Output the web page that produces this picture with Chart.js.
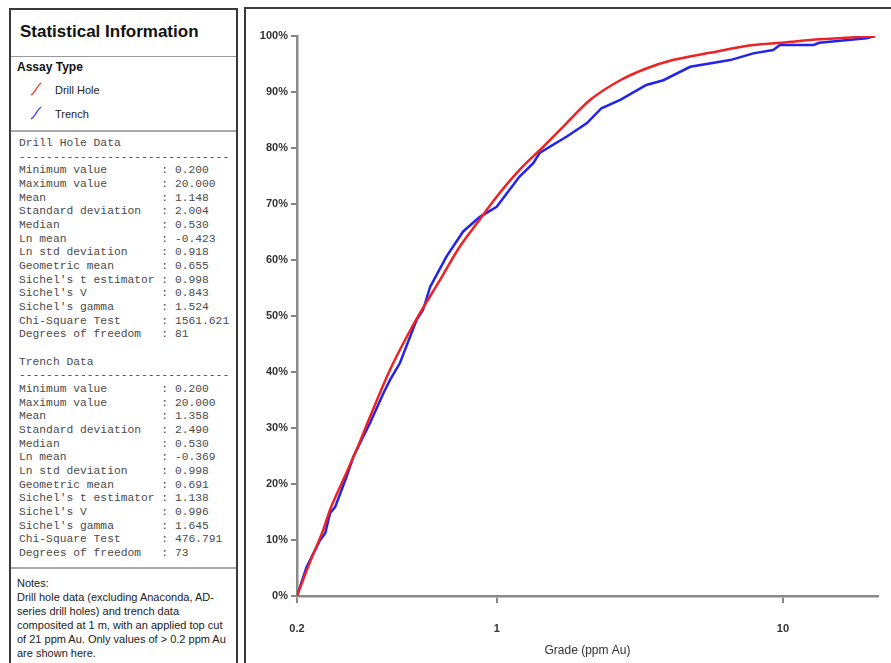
<!DOCTYPE html>
<html lang="en">
<head>
<meta charset="UTF-8">
<title>Statistical Information - Grade CDF</title>
<script src="https://cdn.jsdelivr.net/npm/chart.js"></script>
<style>
  body { margin: 0; background: #fff; font-family: "Liberation Sans", Arial, sans-serif; overflow: hidden; }
  .panel-left {
    position: absolute; left: 9px; top: 8px; width: 229px; height: 670px;
    border: 2px solid #3a3a3a; box-sizing: border-box;
  }
  .panel-right {
    position: absolute; left: 244px; top: 7px; width: 660px; height: 670px;
    border: 2px solid #3a3a3a; box-sizing: border-box;
  }
  .title { position: absolute; left: 9px; top: 12px; font-size: 17px; font-weight: bold; color: #111; }
  .rule { position: absolute; left: 0; right: 0; border-top: 1px solid #999; }
  .rule.thick { border-top: 2px solid #aaa; }
  .assay { position: absolute; left: 6px; top: 50px; font-size: 12px; font-weight: bold; color: #111; }
  .leg { position: absolute; left: 18px; font-size: 11px; color: #222; }
  .leg svg { position: absolute; left: 0; top: -2px; }
  .leg span { position: absolute; left: 26px; top: 0; white-space: nowrap; }
  pre.stats {
    position: absolute; left: 8px; top: 127px; margin: 0;
    font-family: "Liberation Mono", "Courier New", monospace; font-size: 11.3px; line-height: 13.67px; color: #4a4a4a;
  }
  .notes { position: absolute; left: 6px; top: 566px; font-size: 11px; line-height: 14px; color: #222; }
  .chart-box { position: absolute; left: 246px; top: 10px; width: 645px; height: 653px; }
</style>
</head>
<body>
  <div class="panel-left">
    <div class="title">Statistical Information</div>
    <div class="rule" style="top:46px"></div>
    <div class="assay">Assay Type</div>
    <div class="leg" style="top:74px">
      <svg width="14" height="14"><path d="M2 13 C6 11 8 4 12 1" stroke="#ee3333" stroke-width="1.3" fill="none"/></svg>
      <span>Drill Hole</span>
    </div>
    <div class="leg" style="top:98px">
      <svg width="14" height="14"><path d="M2 13 C6 11 8 4 12 1" stroke="#4444ee" stroke-width="1.3" fill="none"/></svg>
      <span>Trench</span>
    </div>
    <div class="rule thick" style="top:120px"></div>
    <pre class="stats" id="stats"></pre>
    <div class="rule thick" style="top:557px"></div>
    <div class="notes">Notes:<br>Drill hole data (excluding Anaconda, AD-<br>series drill holes) and trench data<br>composited at 1 m, with an applied top cut<br>of 21 ppm Au. Only values of &gt; 0.2 ppm Au<br>are shown here.</div>
  </div>
  <div class="panel-right"></div>
  <div class="chart-box"><canvas id="cdfChart"></canvas></div>

<script>
  // cumulative curves (grade ppm Au vs cumulative %)
  const drillGrade = [0.2, 0.221, 0.247, 0.261, 0.29, 0.323, 0.36, 0.423, 0.484, 0.538, 0.632, 0.742, 0.85, 0.998, 1.2, 1.45, 1.75, 2.12, 2.7, 3.33, 4.12, 5.56, 7.88, 9.9, 13.4, 19.7, 21];
  const drillPct = [0, 5.8, 11.8, 15.4, 20.7, 26.1, 32.0, 40.4, 46.3, 50.5, 56.4, 62.4, 66.5, 71.3, 76.1, 80.2, 84.4, 88.6, 92.1, 94.2, 95.7, 97.0, 98.4, 98.8, 99.4, 99.9, 100];

  const trenchGrade = [0.2, 0.216, 0.241, 0.251, 0.261, 0.272, 0.298, 0.315, 0.36, 0.401, 0.423, 0.458, 0.524, 0.552, 0.584, 0.666, 0.762, 0.872, 0.998, 1.2, 1.34, 1.41, 1.75, 2.06, 2.32, 2.7, 3.33, 3.82, 4.74, 6.54, 7.88, 9.24, 9.76, 12.8, 13.4, 19.6, 21];
  const trenchPct = [0, 5.2, 10, 11.2, 14.8, 15.9, 21.3, 24.9, 30.9, 36.2, 38.6, 41.6, 49.3, 51.1, 55.2, 60.6, 65.1, 67.7, 69.5, 74.9, 77.3, 79.1, 82.0, 84.4, 87.1, 88.6, 91.25, 92.1, 94.5, 95.7, 96.9, 97.5, 98.4, 98.4, 98.8, 99.6, 100];

  const xTickValues = [0.2, 1, 10];

  // statistics text
  const statLabels = ['Minimum value', 'Maximum value', 'Mean', 'Standard deviation', 'Median', 'Ln mean', 'Ln std deviation', 'Geometric mean', "Sichel's t estimator", "Sichel's V", "Sichel's gamma", 'Chi-Square Test', 'Degrees of freedom'];
  const drillStats = ['0.200', '20.000', '1.148', '2.004', '0.530', '-0.423', '0.918', '0.655', '0.998', '0.843', '1.524', '1561.621', '81'];
  const trenchStats = ['0.200', '20.000', '1.358', '2.490', '0.530', '-0.369', '0.998', '0.691', '1.138', '0.996', '1.645', '476.791', '73'];

  function block(name, vals) {
    let s = name + '\n' + '-'.repeat(31) + '\n';
    statLabels.forEach((l, i) => { s += l.padEnd(21) + ': ' + vals[i] + '\n'; });
    return s;
  }
  document.getElementById('stats').textContent = block('Drill Hole Data', drillStats) + '\n' + block('Trench Data', trenchStats);

  const toPoints = (xs, ys) => xs.map((x, i) => ({ x: x, y: ys[i] }));

  const ctx = document.getElementById('cdfChart').getContext('2d');
  const cdfChart = new Chart(ctx, {
    type: 'line',
    data: {
      datasets: [{
        label: 'Drill Hole',
        data: toPoints(drillGrade, drillPct),
        borderColor: '#ee2222',
        borderWidth: 2.5,
        pointRadius: 0,
        cubicInterpolationMode: 'monotone'
      }, {
        label: 'Trench',
        data: toPoints(trenchGrade, trenchPct),
        borderColor: '#2222ee',
        borderWidth: 2.5,
        pointRadius: 0,
        tension: 0
      }]
    },
    options: {
      responsive: true,
      maintainAspectRatio: false,
      animation: false,
      layout: { padding: { top: 26, right: 13, left: 0, bottom: 0 } },
      plugins: {
        legend: { display: false },
        tooltip: { enabled: false }
      },
      scales: {
        x: {
          type: 'logarithmic',
          min: 0.2,
          max: 21.5,
          afterBuildTicks: (scale) => { scale.ticks = xTickValues.map(v => ({ value: v })); },
          afterFit: (scale) => { scale.height = 67; },
          ticks: {
            color: '#333',
            font: { family: 'Liberation Sans, Arial', size: 11, weight: 'bold' },
            padding: 19,
            maxRotation: 0,
            autoSkip: false,
            callback: (v) => String(v)
          },
          grid: { drawOnChartArea: false, drawTicks: true, tickLength: 7, tickColor: '#888', lineWidth: 2 },
          border: { color: '#8a8a8a', width: 2.5 },
          title: {
            display: true,
            text: 'Grade (ppm Au)',
            color: '#333',
            font: { family: 'Liberation Sans, Arial', size: 12 },
            padding: { top: 0, bottom: 5 }
          }
        },
        y: {
          min: 0,
          max: 100,
          afterFit: (scale) => { scale.width = 51; },
          ticks: {
            stepSize: 10,
            color: '#333',
            font: { family: 'Liberation Sans, Arial', size: 11, weight: 'bold' },
            padding: 3,
            callback: (v) => v + '%'
          },
          grid: { drawOnChartArea: false, drawTicks: true, tickLength: 6, tickColor: '#888', lineWidth: 2 },
          border: { color: '#8a8a8a', width: 2.5 }
        }
      }
    }
  });
</script>
</body>
</html>
